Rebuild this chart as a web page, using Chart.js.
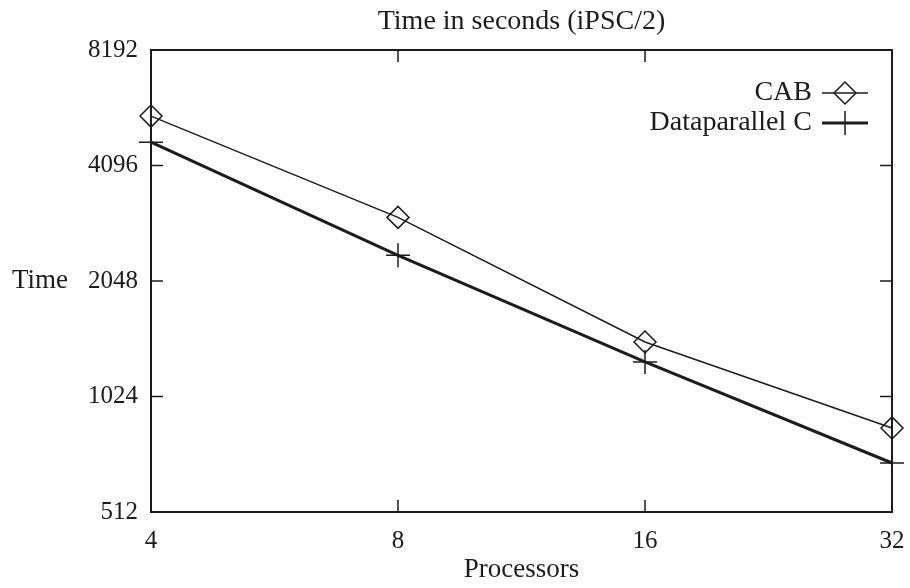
<!DOCTYPE html>
<html>
<head>
<meta charset="utf-8">
<title>Time in seconds (iPSC/2)</title>
<script src="https://cdn.jsdelivr.net/npm/chart.js@4.4.1/dist/chart.umd.min.js"></script>
<style>
    html, body { margin: 0; padding: 0; background: #fff; }
    #wrap { width: 910px; height: 588px; }
</style>
</head>
<body>
<div id="wrap"><canvas id="time-chart" width="910" height="588"></canvas></div>
<script>
// Run times on the iPSC/2, log-log axes
const processors = [4, 8, 16, 32];
const cabTimes = [5510, 3000, 1420, 848];
const dpcTimes = [4710, 2390, 1260, 687];
const xTicks = [4, 8, 16, 32];
const yTicks = [512, 1024, 2048, 4096, 8192];

const ink = '#1c1c1c';
const serif = '"Liberation Serif", "DejaVu Serif", serif';

// gnuplot-style frame with inward ticks, plus title, y label and legend
const framePlugin = {
    id: 'frame',
    afterDraw(chart) {
        const ctx = chart.ctx;
        const area = chart.chartArea;
        const xs = chart.scales.x;
        const ys = chart.scales.y;
        const tick = 12;

        ctx.save();
        ctx.strokeStyle = ink;
        ctx.lineWidth = 2;
        ctx.strokeRect(area.left, area.top, area.right - area.left, area.bottom - area.top);

        ctx.lineWidth = 1.5;
        ctx.beginPath();
        xTicks.slice(1, -1).forEach(v => {
            const px = xs.getPixelForValue(v);
            ctx.moveTo(px, area.bottom);
            ctx.lineTo(px, area.bottom - tick);
            ctx.moveTo(px, area.top);
            ctx.lineTo(px, area.top + tick);
        });
        yTicks.slice(1, -1).forEach(v => {
            const py = ys.getPixelForValue(v);
            ctx.moveTo(area.left, py);
            ctx.lineTo(area.left + tick, py);
            ctx.moveTo(area.right, py);
            ctx.lineTo(area.right - tick, py);
        });
        ctx.stroke();

        ctx.fillStyle = ink;
        ctx.font = '28px ' + serif;
        ctx.textBaseline = 'middle';
        ctx.textAlign = 'center';
        ctx.fillText('Time in seconds (iPSC/2)', (area.left + area.right) / 2, 22);
        ctx.font = '27px ' + serif;
        ctx.textAlign = 'right';
        ctx.fillText('Time', 68, ys.getPixelForValue(2048));

        // legend: label, then a short sample line with the marker
        const rows = [
            { ds: chart.data.datasets[0], y: 93 },
            { ds: chart.data.datasets[1], y: 123 }
        ];
        ctx.font = '28px ' + serif;
        rows.forEach(r => {
            ctx.fillStyle = ink;
            ctx.textAlign = 'right';
            ctx.fillText(r.ds.label, 812, r.y);
            ctx.lineWidth = r.ds.borderWidth;
            ctx.beginPath();
            ctx.moveTo(822, r.y);
            ctx.lineTo(868, r.y);
            ctx.stroke();
            ctx.lineWidth = r.ds.pointBorderWidth;
            ctx.fillStyle = 'rgba(0,0,0,0)';
            Chart.helpers.drawPoint(ctx, {
                pointStyle: r.ds.pointStyle,
                radius: r.ds.pointRadius,
                borderWidth: r.ds.pointBorderWidth,
                rotation: 0
            }, 845, r.y);
        });
        ctx.restore();
    }
};

new Chart(document.getElementById('time-chart'), {
    type: 'line',
    data: {
        datasets: [{
            label: 'CAB',
            data: processors.map((p, i) => ({ x: p, y: cabTimes[i] })),
            borderColor: ink,
            borderWidth: 1.5,
            pointStyle: 'rectRot',
            pointRadius: 11,
            pointBorderWidth: 1.5,
            pointBorderColor: ink,
            pointBackgroundColor: 'rgba(0,0,0,0)',
            tension: 0,
            clip: false
        }, {
            label: 'Dataparallel C',
            data: processors.map((p, i) => ({ x: p, y: dpcTimes[i] })),
            borderColor: ink,
            borderWidth: 3,
            pointStyle: 'cross',
            pointRadius: 12,
            pointBorderWidth: 1.5,
            pointBorderColor: ink,
            pointBackgroundColor: 'rgba(0,0,0,0)',
            tension: 0,
            clip: false
        }]
    },
    options: {
        responsive: false,
        animation: false,
        layout: { padding: { left: 0, right: 18, top: 50, bottom: 0 } },
        plugins: {
            legend: { display: false },
            title: { display: false },
            tooltip: { enabled: false }
        },
        scales: {
            x: {
                type: 'logarithmic',
                min: 4,
                max: 32,
                afterBuildTicks: scale => { scale.ticks = xTicks.map(v => ({ value: v })); },
                afterFit: scale => {
                    scale.height = 76;
                    scale.paddingLeft = 0;
                    scale.paddingRight = 0;
                },
                grid: { display: false, drawTicks: false },
                border: { display: false },
                ticks: {
                    color: ink,
                    padding: 14,
                    maxRotation: 0,
                    font: { family: serif, size: 25 },
                    callback: v => String(v)
                },
                title: {
                    display: true,
                    text: 'Processors',
                    color: ink,
                    font: { family: serif, size: 27 },
                    padding: { top: 0, bottom: 2 }
                }
            },
            y: {
                type: 'logarithmic',
                min: 512,
                max: 8192,
                afterBuildTicks: scale => { scale.ticks = yTicks.map(v => ({ value: v })); },
                afterFit: scale => {
                    scale.width = 151;
                    scale.paddingTop = 0;
                    scale.paddingBottom = 0;
                },
                grid: { display: false, drawTicks: false },
                border: { display: false },
                ticks: {
                    color: ink,
                    padding: 13,
                    font: { family: serif, size: 25 },
                    callback: v => String(v)
                }
            }
        }
    },
    plugins: [framePlugin]
});
</script>
</body>
</html>
